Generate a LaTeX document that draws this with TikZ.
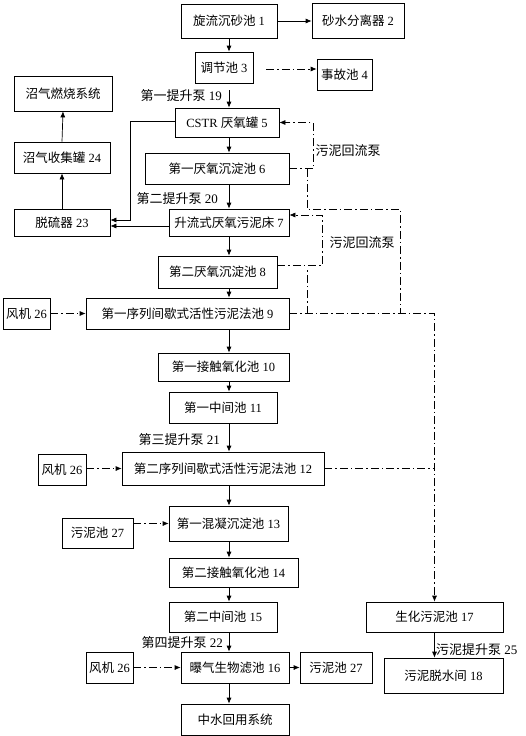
\documentclass[tikz,border=0pt]{standalone}
\usepackage{fontspec}
\setmainfont{Liberation Serif}
\newfontfamily\cjk{Noto Sans CJK SC}
\newcommand\zh[1]{{\cjk #1}}
\usepackage{tikz}
\usetikzlibrary{arrows.meta,calc}
\tikzset{
  chi/.style={draw,line width=0.7pt,inner sep=0pt,font=\fontsize{12.5}{14}\selectfont},
  jian/.style={-{Latex[length=6pt,width=5pt]},line width=0.7pt},
  xu/.style={jian,dash pattern=on 8pt off 3pt on 1.5pt off 3pt},
  xian/.style={line width=0.7pt,dash pattern=on 8pt off 3pt on 1.5pt off 3pt},
  biao/.style={font=\fontsize{13}{15}\selectfont,inner sep=0pt},
}

\begin{document}
\begin{tikzpicture}[x=1pt,y=-1pt]
  \useasboundingbox (0,0) rectangle (526,736);
  % main line
  \node[chi,minimum width=96,minimum height=34] (c1) at (229,21) {\zh{旋流沉砂池} 1};
  \node[chi,minimum width=92,minimum height=35] (c2) at (358,20.5) {\zh{砂水分离器} 2};
  \node[chi,minimum width=58,minimum height=31] (c3) at (224,67.5) {\zh{调节池} 3};
  \node[chi,minimum width=55,minimum height=31] (c4) at (344.5,74.5) {\zh{事故池} 4};
  \node[chi,minimum width=104,minimum height=29] (c5) at (227,122.5) {CSTR \zh{厌氧罐} 5};
  \node[chi,minimum width=144,minimum height=31] (c6) at (217,168.5) {\zh{第一厌氧沉淀池} 6};
  \node[chi,minimum width=120,minimum height=27] (c7) at (229,222.5) {\zh{升流式厌氧污泥床} 7};
  \node[chi,minimum width=119,minimum height=32] (c8) at (217.5,272) {\zh{第二厌氧沉淀池} 8};
  \node[chi,minimum width=203,minimum height=31] (c9) at (187.5,313.5) {\zh{第一序列间歇式活性污泥法池} 9};
  \node[chi,minimum width=131,minimum height=28] (c10) at (223.5,367) {\zh{第一接触氧化池} 10};
  \node[chi,minimum width=108,minimum height=31] (c11) at (223,407.5) {\zh{第一中间池} 11};
  \node[chi,minimum width=202,minimum height=33] (c12) at (223,468.5) {\zh{第二序列间歇式活性污泥法池} 12};
  \node[chi,minimum width=119,minimum height=35] (c13) at (228.5,523.5) {\zh{第一混凝沉淀池} 13};
  \node[chi,minimum width=129,minimum height=29] (c14) at (233.5,572.5) {\zh{第二接触氧化池} 14};
  \node[chi,minimum width=108,minimum height=30] (c15) at (223,617) {\zh{第二中间池} 15};
  \node[chi,minimum width=108,minimum height=31] (c16) at (235,667.5) {\zh{曝气生物滤池} 16};
  \node[chi,minimum width=108,minimum height=31] (zs) at (235,719.5) {\zh{中水回用系统}};
  % biogas side
  \node[chi,minimum width=98,minimum height=35] (ran) at (63,93.5) {\zh{沼气燃烧系统}};
  \node[chi,minimum width=96,minimum height=31] (c24) at (62,157.5) {\zh{沼气收集罐} 24};
  \node[chi,minimum width=96,minimum height=27] (c23) at (62,222.5) {\zh{脱硫器} 23};
  % fans and sludge
  \node[chi,minimum width=47,minimum height=31] (f1) at (26.5,313.5) {\zh{风机} 26};
  \node[chi,minimum width=48,minimum height=31] (f2) at (62,469.5) {\zh{风机} 26};
  \node[chi,minimum width=47,minimum height=31] (f3) at (109.5,667.5) {\zh{风机} 26};
  \node[chi,minimum width=71,minimum height=30] (s1) at (97.5,533) {\zh{污泥池} 27};
  \node[chi,minimum width=72,minimum height=31] (s2) at (336,667.5) {\zh{污泥池} 27};
  \node[chi,minimum width=137,minimum height=30] (c17) at (434.5,617) {\zh{生化污泥池} 17};
  \node[chi,minimum width=119,minimum height=35] (c18) at (443.5,675.5) {\zh{污泥脱水间} 18};
  % labels
  \node[biao,anchor=east] (l19) at (222,96) {\zh{第一提升泵} 19};
  \node[biao,anchor=east] (l20) at (218,199) {\zh{第二提升泵} 20};
  \node[biao,anchor=east] (l21) at (220,440) {\zh{第三提升泵} 21};
  \node[biao,anchor=east] (l22) at (223,643) {\zh{第四提升泵} 22};
  \node[biao,anchor=west] (l25) at (436,650) {\zh{污泥提升泵} 25};
  \node[biao] (h5) at (348,151) {\zh{污泥回流泵}};
  \node[biao] (h7) at (362,243) {\zh{污泥回流泵}};

  \coordinate (zx) at (229,0);
  \coordinate (k) at (400,0);
  \coordinate (b19) at (229,90);
  \foreach \a/\b in {c1/c3,c5/c6,c6/c7,c7/c8,c8/c9,c9/c10,c10/c11,c11/c12,c12/c13,c13/c14,c14/c15,c15/c16,c16/zs}
    \draw[jian] (\a.south -| zx) -- (\b.north -| zx);
  \draw[jian] (b19) -- (b19 |- c5.north);
  \draw[jian] (c1.east) -- (c1.east -| c2.west);
  \coordinate (a34) at ($(c3.east)+(13,1.5)$);
  \draw[xu] (a34) -- (a34 -| c4.west);

  % biogas
  \draw[jian] ($(c5.west)+(0,-1.5)$) -- ++(-44,0) |- ($(c23.east)+(0,-2.5)$);
  \draw[jian] ($(c7.west)+(0,3.5)$) -- ($(c23.east)+(0,3.5)$);
  \draw[jian] (c23.north) -- (c24.south);
  \draw[jian] (c24.north) -- (ran.south);

  % air and sludge feeds
  \draw[xu] (f1.east) -- (c9.west);
  \draw[xu] (f2.east |- c12) -- (c12.west);
  \draw[xu] (s1.east |- c13) -- (c13.west);
  \draw[xu] (f3.east) -- (c16.west);
  \draw[jian] (c16.east) -- (s2.west);

  % sludge return
  \draw[xu] (c6.east) -- ++(24,0) |- (c5.east);
  \draw[xian] ($(c6.east)+(18,0)$) |- (400,209) -- (c9.east -| k);
  \draw[xu] ($(c8.east)+(0,-7)$) -- ++(45,0) |- ($(c7.east)+(0,-7.5)$);
  \draw[xian] ($(c9.east)+(18,0)$) -- ++(0,-46);
  \draw[xu] (c9.east) -| (c17.north);
  \draw[xian] (c12.east) -- (c12.east -| c17.north);
  \draw[jian] (c17.south) -- (c17.south |- c18.north);
\end{tikzpicture}
\end{document}
